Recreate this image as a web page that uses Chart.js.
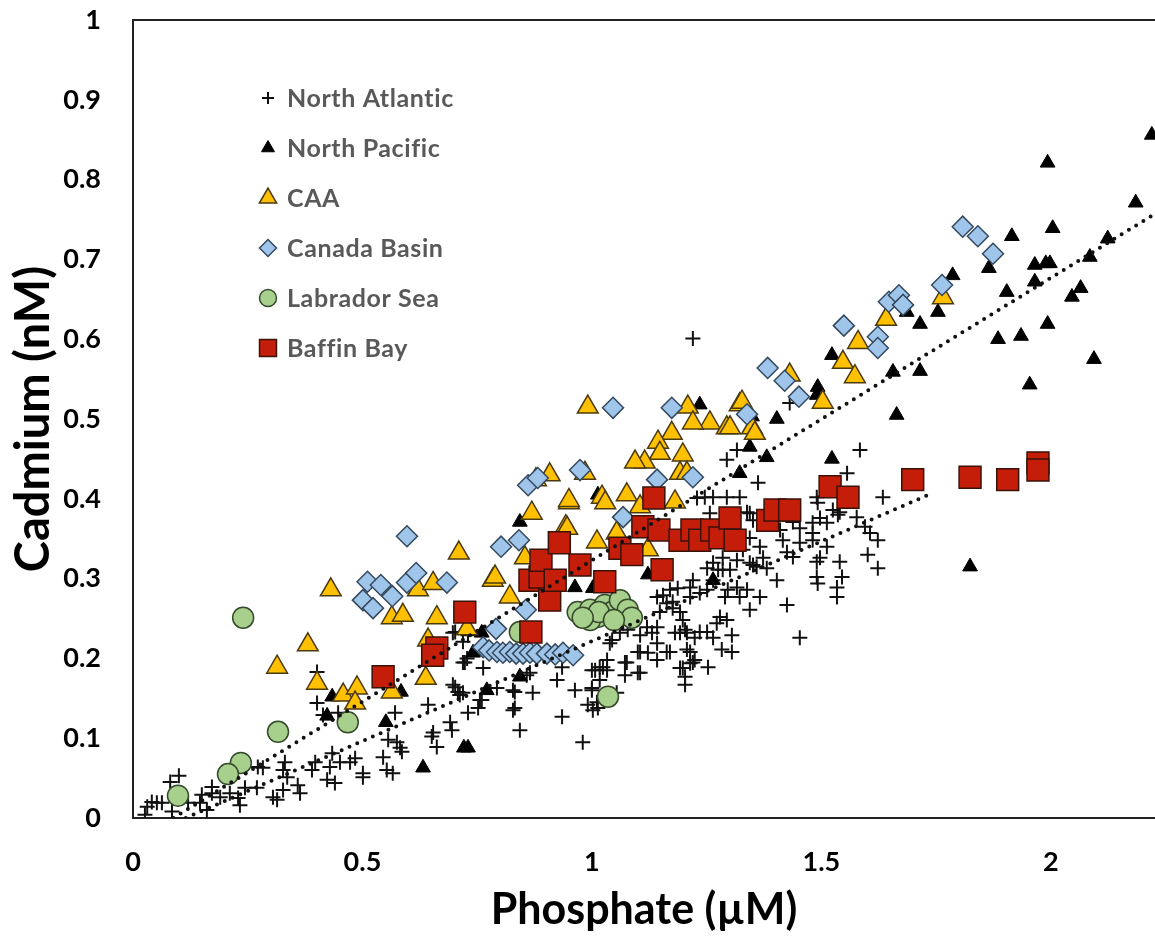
<!DOCTYPE html>
<html>
<head>
<meta charset="utf-8">
<script src="https://cdn.jsdelivr.net/npm/chart.js@4/dist/chart.umd.min.js"></script>
<style>
  html, body { margin: 0; padding: 0; background: #fff; overflow: hidden; }
  #wrap { position: relative; width: 1155px; height: 936px; }
  #cdChart { display: block; }
</style>
</head>
<body>
<div id="wrap"><canvas id="cdChart" width="1155" height="936"></canvas></div>
<script>
// series: [phosphate µM, cadmium nM]
var northAtlantic = [
  [0.100,0.053],[0.081,0.045],[0.085,0.008],[0.041,0.020],[0.052,0.019],[0.031,0.014],[0.026,0.004],[0.063,0.019],
  [0.120,0.019],[0.150,0.029],[0.146,0.019],[0.161,0.010],[0.172,0.039],[0.172,0.031],[0.190,0.026],[0.211,0.031],
  [0.229,0.025],[0.233,0.016],[0.244,0.038],[0.272,0.064],[0.283,0.063],[0.270,0.038],[0.305,0.026],[0.314,0.023],
  [0.331,0.070],[0.327,0.060],[0.336,0.051],[0.359,0.041],[0.364,0.031],[0.327,0.035],[0.390,0.060],[0.397,0.070],
  [0.429,0.064],[0.440,0.044],[0.423,0.048],[0.434,0.081],[0.451,0.070],[0.473,0.070],[0.484,0.075],[0.501,0.051],
  [0.501,0.056],[0.545,0.076],[0.553,0.060],[0.566,0.056],[0.556,0.098],[0.575,0.095],[0.582,0.088],[0.586,0.083],
  [0.571,0.132],[0.643,0.142],[0.654,0.107],[0.662,0.089],[0.651,0.102],[0.691,0.120],[0.695,0.110],[0.702,0.164],
  [0.719,0.157],[0.730,0.132],[0.752,0.138],[0.760,0.148],[0.763,0.188],[0.719,0.195],[0.702,0.233],[0.730,0.229],
  [0.401,0.183],[0.401,0.144],[0.447,0.132],[0.414,0.129],[0.697,0.232],[0.719,0.221],[0.728,0.200],[0.712,0.154],
  [0.723,0.195],[0.697,0.167],[0.708,0.158],[0.793,0.163],[0.756,0.148],[0.832,0.158],[0.832,0.138],[0.871,0.157],
  [0.843,0.110],[0.865,0.182],[0.858,0.179],[0.828,0.160],[0.828,0.135],[0.924,0.173],[0.935,0.189],[0.963,0.160],
  [0.935,0.127],[0.980,0.095],[1.000,0.160],[1.000,0.185],[1.017,0.189],[1.017,0.173],[1.033,0.198],[1.033,0.185],
  [0.991,0.142],[1.013,0.138],[1.054,0.157],[1.076,0.195],[1.072,0.179],[1.100,0.182],[1.100,0.208],[1.122,0.207],
  [1.142,0.198],[1.142,0.239],[1.142,0.219],[1.163,0.208],[1.192,0.188],[1.203,0.177],[1.203,0.167],[1.214,0.208],
  [1.220,0.195],[1.203,0.236],[1.181,0.232],[1.061,0.232],[1.039,0.219],[1.011,0.145],[1.002,0.135],[1.000,0.163],
  [1.007,0.185],[1.024,0.189],[1.044,0.223],[1.068,0.244],[1.078,0.236],[1.072,0.195],[1.105,0.182],[1.105,0.229],
  [1.105,0.208],[1.120,0.239],[1.131,0.232],[1.142,0.277],[1.148,0.258],[1.155,0.279],[1.163,0.269],[1.170,0.286],
  [1.176,0.271],[1.176,0.263],[1.170,0.208],[1.187,0.288],[1.192,0.258],[1.192,0.232],[1.198,0.248],[1.198,0.188],
  [1.207,0.232],[1.207,0.211],[1.214,0.277],[1.214,0.289],[1.214,0.194],[1.220,0.298],[1.224,0.226],[1.224,0.198],
  [1.235,0.282],[1.235,0.233],[1.251,0.286],[1.251,0.233],[1.251,0.313],[1.253,0.189],[1.264,0.298],[1.264,0.226],
  [1.264,0.320],[1.272,0.244],[1.275,0.311],[1.279,0.252],[1.283,0.211],[1.285,0.311],[1.285,0.326],[1.285,0.346],
  [1.290,0.277],[1.294,0.248],[1.296,0.286],[1.301,0.352],[1.301,0.311],[1.305,0.229],[1.305,0.208],[1.316,0.289],
  [1.316,0.323],[1.316,0.345],[1.322,0.277],[1.329,0.336],[1.338,0.286],[1.338,0.383],[1.344,0.261],[1.344,0.351],
  [1.344,0.320],[1.351,0.317],[1.351,0.373],[1.359,0.315],[1.362,0.420],[1.366,0.340],[1.366,0.277],[1.373,0.326],
  [1.381,0.313],[1.403,0.298],[1.410,0.361],[1.416,0.348],[1.425,0.333],[1.425,0.267],[1.438,0.327],[1.438,0.371],
  [1.453,0.345],[1.453,0.363],[1.453,0.226],[1.481,0.370],[1.481,0.357],[1.481,0.348],[1.490,0.321],[1.490,0.302],
  [1.492,0.294],[1.492,0.395],[1.490,0.402],[1.497,0.376],[1.497,0.326],[1.512,0.370],[1.512,0.340],[1.525,0.386],
  [1.534,0.289],[1.534,0.277],[1.536,0.380],[1.540,0.321],[1.540,0.383],[1.545,0.302],[1.577,0.377],[1.595,0.365],
  [1.601,0.330],[1.606,0.357],[1.623,0.348],[1.623,0.313],[1.634,0.402],[1.556,0.432],[1.584,0.461],[1.229,0.401],
  [1.246,0.402],[1.264,0.402],[1.294,0.402],[1.322,0.402],[1.257,0.382],[1.344,0.382],[1.316,0.461],[1.294,0.449],
  [1.431,0.520],[1.220,0.601]
];
var northPacific = [
  [2.220,0.856],[1.993,0.821],[2.185,0.771],[2.004,0.739],[1.915,0.729],[2.124,0.726],[1.965,0.693],[1.989,0.695],
  [1.998,0.695],[2.085,0.703],[1.865,0.689],[2.065,0.664],[2.046,0.653],[1.965,0.672],[1.904,0.659],[1.786,0.680],
  [1.686,0.634],[1.754,0.634],[1.715,0.619],[1.885,0.600],[1.935,0.604],[1.993,0.619],[2.094,0.575],[1.523,0.580],
  [1.656,0.559],[1.715,0.560],[1.492,0.540],[1.954,0.543],[1.664,0.505],[1.523,0.450],[1.824,0.315],[1.490,0.530],
  [1.403,0.500],[1.235,0.518],[1.344,0.465],[1.381,0.452],[1.322,0.432],[1.349,0.503],[0.843,0.371],[1.013,0.405],
  [0.963,0.289],[1.002,0.288],[0.760,0.232],[0.741,0.207],[0.843,0.177],[0.771,0.160],[0.584,0.158],[0.434,0.152],
  [0.423,0.128],[0.551,0.120],[0.632,0.063],[0.721,0.088],[0.730,0.088],[1.122,0.305],[1.264,0.298]
];
var caa = [
  [0.431,0.286],[0.381,0.217],[0.314,0.189],[0.401,0.169],[0.458,0.154],[0.488,0.163],[0.484,0.144],[0.564,0.158],
  [0.638,0.175],[0.662,0.251],[0.564,0.251],[0.588,0.254],[0.710,0.332],[0.621,0.286],[0.654,0.294],[0.728,0.237],
  [0.643,0.223],[0.869,0.382],[0.950,0.395],[0.784,0.298],[0.821,0.277],[0.854,0.326],[0.943,0.365],[1.011,0.346],
  [0.991,0.515],[1.209,0.515],[1.257,0.495],[1.220,0.495],[1.294,0.489],[1.322,0.518],[1.349,0.489],[1.174,0.482],
  [1.144,0.471],[1.148,0.457],[1.115,0.446],[1.094,0.446],[1.198,0.455],[1.192,0.432],[1.207,0.432],[0.908,0.430],
  [0.878,0.424],[0.985,0.432],[0.950,0.398],[1.022,0.402],[1.076,0.405],[1.029,0.395],[1.105,0.390],[1.181,0.396],
  [0.946,0.363],[1.054,0.357],[1.122,0.336],[0.789,0.302],[1.327,0.521],[1.301,0.489],[1.355,0.482],[1.431,0.555],
  [1.503,0.521],[1.547,0.571],[1.573,0.553],[1.580,0.596],[1.641,0.625],[1.765,0.652]
];
var canadaBasin = [
  [0.597,0.353],[0.511,0.296],[0.540,0.292],[0.501,0.273],[0.523,0.263],[0.565,0.278],[0.597,0.295],[0.617,0.307],
  [0.684,0.295],[0.802,0.340],[0.841,0.348],[0.861,0.417],[0.882,0.426],[0.856,0.261],[0.791,0.237],[0.763,0.214],
  [0.776,0.210],[0.793,0.208],[0.806,0.207],[0.821,0.208],[0.835,0.206],[0.850,0.206],[0.865,0.207],[0.880,0.206],
  [0.902,0.206],[0.920,0.205],[0.937,0.207],[0.959,0.204],[1.046,0.514],[0.974,0.436],[1.142,0.424],[1.220,0.427],
  [1.068,0.377],[1.174,0.514],[1.338,0.506],[1.383,0.564],[1.420,0.548],[1.451,0.528],[1.549,0.617],[1.623,0.603],
  [1.623,0.589],[1.647,0.647],[1.669,0.655],[1.678,0.643],[1.763,0.668],[1.808,0.741],[1.841,0.729],[1.874,0.707]
];
var labradorSea = [
  [0.240,0.251],[0.316,0.108],[0.468,0.120],[0.235,0.069],[0.207,0.055],[0.098,0.028],[1.035,0.152],[0.843,0.233],
  [0.969,0.258],[0.996,0.261],[1.013,0.252],[1.028,0.267],[1.044,0.258],[1.061,0.273],[1.078,0.261],[1.087,0.251],
  [0.996,0.248],[1.015,0.258],[1.048,0.248],[0.980,0.251]
];
var baffinBay = [
  [0.545,0.177],[0.662,0.213],[0.653,0.204],[0.723,0.258],[0.867,0.233],[0.865,0.298],[0.887,0.302],[0.889,0.323],
  [0.908,0.273],[0.929,0.345],[0.920,0.298],[0.974,0.317],[1.028,0.296],[1.061,0.338],[1.087,0.330],[1.135,0.401],
  [1.111,0.365],[1.153,0.311],[1.146,0.361],[1.192,0.348],[1.218,0.361],[1.235,0.348],[1.261,0.361],[1.279,0.351],
  [1.301,0.376],[1.312,0.348],[1.383,0.373],[1.399,0.386],[1.431,0.386],[1.519,0.415],[1.558,0.402],[1.699,0.424],
  [1.824,0.427],[1.906,0.424],[1.972,0.445],[1.972,0.436]
];
// dotted regression lines (end points)
var upperFit = [[0.088,0.0],[2.30,0.783]];
var lowerFit = [[0.115,0.0],[1.741,0.407]];

var yTicks = [0, 0.1, 0.2, 0.3, 0.4, 0.5, 0.6, 0.7, 0.8, 0.9, 1];
var xTicks = [0, 0.5, 1, 1.5, 2];

function pts(arr) {
  return arr.map(function (p) { return { x: p[0], y: p[1] }; });
}
function fmt(v) { return String(Math.round(v * 10) / 10); }

var FONT = 'Lato, "Noto Sans", sans-serif';

var datasets = [
  { label: 'North Atlantic', data: pts(northAtlantic), pointStyle: 'cross', pointRadius: 7.5,
    borderColor: '#111', backgroundColor: '#111', borderWidth: 2, order: 6, legendRadius: 6 },
  { label: 'North Pacific', data: pts(northPacific), pointStyle: 'triangle', pointRadius: 8.5,
    borderColor: '#000', backgroundColor: '#000', borderWidth: 1, order: 5, legendRadius: 7.5 },
  { label: 'CAA', data: pts(caa), pointStyle: 'triangle', pointRadius: 12,
    borderColor: '#4a3a10', backgroundColor: '#ffc000', borderWidth: 1.5, order: 4, legendRadius: 10 },
  { label: 'Canada Basin', data: pts(canadaBasin), pointStyle: 'rectRot', pointRadius: 10.5,
    borderColor: '#34495e', backgroundColor: '#9fc5ea', borderWidth: 1.5, order: 3, legendRadius: 8.5 },
  { label: 'Labrador Sea', data: pts(labradorSea), pointStyle: 'circle', pointRadius: 10.5,
    borderColor: '#364a2c', backgroundColor: '#a8d08d', borderWidth: 1.5, order: 2, legendRadius: 8.5 },
  { label: 'Baffin Bay', data: pts(baffinBay), pointStyle: 'rect', pointRadius: 15.5,
    borderColor: '#3b1208', backgroundColor: '#c41e0a', borderWidth: 1.5, order: 1, legendRadius: 12 },
  { label: 'fitUpper', isFit: true, data: pts(upperFit), showLine: true, pointRadius: 0,
    borderColor: '#111', borderWidth: 4, borderDash: [0, 8.5], borderCapStyle: 'round', order: 0 },
  { label: 'fitLower', isFit: true, data: pts(lowerFit), showLine: true, pointRadius: 0,
    borderColor: '#111', borderWidth: 4, borderDash: [0, 8.5], borderCapStyle: 'round', order: 0 }
];

// legend drawn inside the plot, top-left, plus the top frame line
var insideLegend = {
  id: 'insideLegend',
  afterDraw: function (chart) {
    var ctx = chart.ctx, a = chart.chartArea;
    ctx.save();
    ctx.strokeStyle = '#222';
    ctx.lineWidth = 2;
    ctx.beginPath();
    ctx.moveTo(a.left, a.top);
    ctx.lineTo(a.right, a.top);
    ctx.stroke();

    ctx.font = 'bold 25px ' + FONT;
    ctx.textBaseline = 'middle';
    if ('letterSpacing' in ctx) ctx.letterSpacing = '0.6px';
    var row = 0;
    chart.data.datasets.forEach(function (ds) {
      if (ds.isFit) return;
      var cx = a.left + 135, cy = a.top + 78 + row * 50;
      ctx.fillStyle = ds.backgroundColor;
      ctx.strokeStyle = ds.borderColor;
      ctx.lineWidth = ds.borderWidth;
      Chart.helpers.drawPoint(ctx, { pointStyle: ds.pointStyle, radius: ds.legendRadius,
        borderWidth: ds.borderWidth, rotation: 0 }, cx, cy);
      ctx.fillStyle = '#595959';
      ctx.fillText(ds.label, a.left + 154, cy + 1);
      row++;
    });
    ctx.restore();
  }
};

var ctx = document.getElementById('cdChart').getContext('2d');
var chart = new Chart(ctx, {
  type: 'scatter',
  data: { datasets: datasets },
  plugins: [insideLegend],
  options: {
    responsive: false,
    devicePixelRatio: 1,
    animation: false,
    layout: { autoPadding: false, padding: { top: 20, right: 0, left: 0, bottom: 0 } },
    plugins: { legend: { display: false }, tooltip: { enabled: false } },
    scales: {
      x: {
        type: 'linear', min: 0, max: 2.227,
        afterBuildTicks: function (s) { s.ticks = xTicks.map(function (v) { return { value: v }; }); },
        afterFit: function (s) { s.height = 118; s.paddingLeft = 0; s.paddingRight = 0; },
        grid: { display: false, drawTicks: false },
        border: { display: true, color: '#222', width: 2 },
        ticks: { padding: 28, color: '#000', callback: fmt,
          font: { family: FONT, size: 27, weight: 'bold' } },
        title: { display: true, text: 'Phosphate (µM)', color: '#000',
          font: { family: FONT, size: 43, weight: 'bold' }, padding: { top: 0, bottom: 0 } }
      },
      y: {
        type: 'linear', min: 0, max: 1,
        afterBuildTicks: function (s) { s.ticks = yTicks.map(function (v) { return { value: v }; }); },
        afterFit: function (s) { s.width = 133; s.paddingTop = 0; s.paddingBottom = 0; },
        grid: { display: false, drawTicks: false },
        border: { display: true, color: '#222', width: 2 },
        ticks: { padding: 32, color: '#000', callback: fmt,
          font: { family: FONT, size: 27, weight: 'bold' } },
        title: { display: true, text: 'Cadmium (nM)', color: '#000',
          font: { family: FONT, size: 47, weight: 'bold' }, padding: { top: 6, bottom: 0 } }
      }
    }
  }
});
</script>
</body>
</html>
